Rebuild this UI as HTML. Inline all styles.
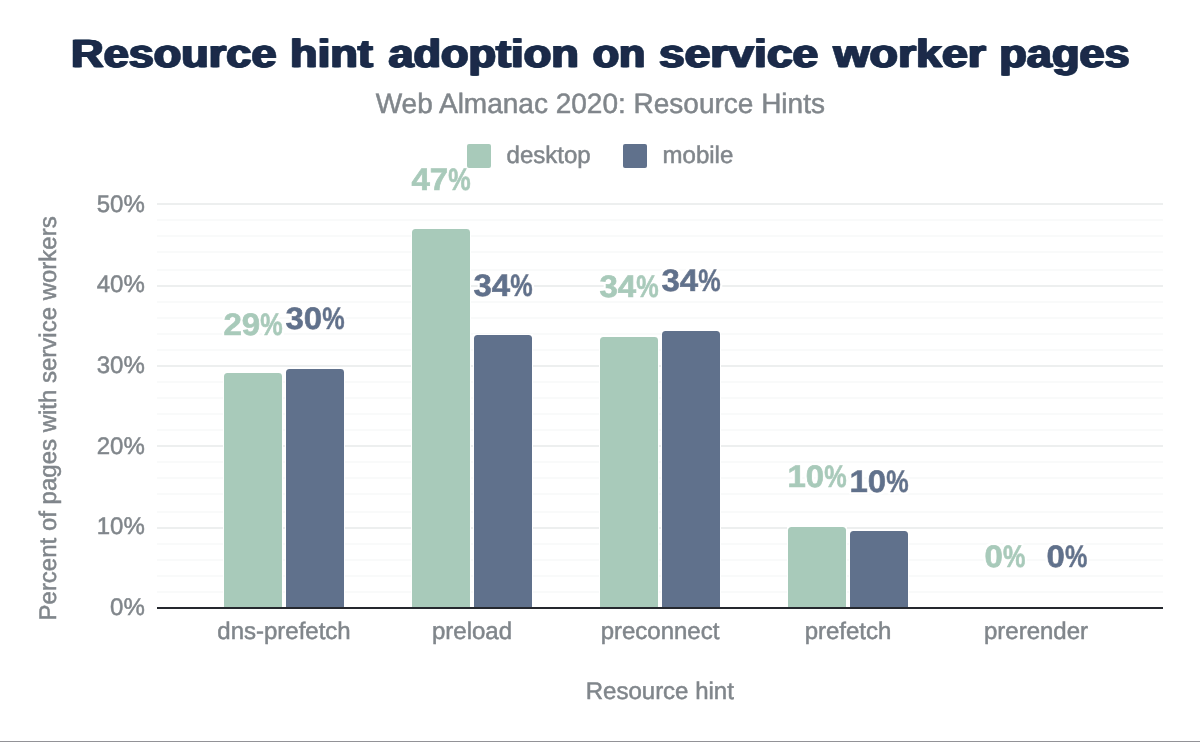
<!DOCTYPE html>
<html lang="en"><head><meta charset="utf-8"><title>Resource hint adoption on service worker pages</title>
<style>html,body{margin:0;padding:0;background:#fff;}body{width:1200px;height:742px;overflow:hidden;}svg{display:block;}text{font-family:"Liberation Sans",Arial,sans-serif;text-rendering:geometricPrecision;}.t{fill:#80868b;font-size:24px;stroke:#80868b;stroke-width:0.5px;}.dl{font-weight:bold;font-size:31px;}</style></head><body>
<svg width="1200" height="742" viewBox="0 0 1200 742">
<rect x="0" y="0" width="1200" height="742" fill="#fff"/>
<defs><filter id="fat" x="-2%" y="-30%" width="104%" height="160%"><feOffset dx="-1.2" dy="-0.2" in="SourceGraphic" result="a"/><feOffset dx="1.2" dy="-0.2" in="SourceGraphic" result="b"/><feOffset dx="0" dy="-0.2" in="SourceGraphic" result="c"/><feMerge><feMergeNode in="a"/><feMergeNode in="b"/><feMergeNode in="c"/></feMerge></filter><filter id="halo" x="-10%" y="-20%" width="120%" height="140%"><feMorphology in="SourceAlpha" operator="dilate" radius="2" result="d"/><feFlood flood-color="#fff"/><feComposite operator="in" in2="d" result="h"/><feMerge><feMergeNode in="h"/><feMergeNode in="SourceGraphic"/></feMerge></filter></defs>
<text y="67" font-size="39.3" font-weight="bold" fill="#1a2b49" stroke="#1a2b49" stroke-width="0.5" stroke-linejoin="round" filter="url(#fat)">
<tspan x="71.11" textLength="205.35" lengthAdjust="spacingAndGlyphs">Resource</tspan> <tspan x="290.11" textLength="82.67" lengthAdjust="spacingAndGlyphs">hint</tspan> <tspan x="388.44" textLength="190.29" lengthAdjust="spacingAndGlyphs">adoption</tspan> <tspan x="592.72" textLength="52.70" lengthAdjust="spacingAndGlyphs">on</tspan> <tspan x="658.94" textLength="159.41" lengthAdjust="spacingAndGlyphs">service</tspan> <tspan x="833.44" textLength="152.44" lengthAdjust="spacingAndGlyphs">worker</tspan> <tspan x="999.32" textLength="130.35" lengthAdjust="spacingAndGlyphs">pages</tspan>
</text>
<text x="600.3" y="113" text-anchor="middle" font-size="28" fill="#80868b" stroke="#80868b" stroke-width="0.5">Web Almanac 2020: Resource Hints</text>
<rect x="157" y="203" width="1006" height="2" fill="#edefef"/>
<rect x="157" y="219" width="1006" height="2" fill="#f9fafa"/>
<rect x="157" y="235" width="1006" height="2" fill="#f9fafa"/>
<rect x="157" y="251" width="1006" height="2" fill="#f9fafa"/>
<rect x="157" y="269" width="1006" height="2" fill="#f9fafa"/>
<rect x="157" y="285" width="1006" height="2" fill="#edefef"/>
<rect x="157" y="301" width="1006" height="2" fill="#f9fafa"/>
<rect x="157" y="317" width="1006" height="2" fill="#f9fafa"/>
<rect x="157" y="333" width="1006" height="2" fill="#f9fafa"/>
<rect x="157" y="349" width="1006" height="2" fill="#f9fafa"/>
<rect x="157" y="365" width="1006" height="2" fill="#edefef"/>
<rect x="157" y="381" width="1006" height="2" fill="#f9fafa"/>
<rect x="157" y="397" width="1006" height="2" fill="#f9fafa"/>
<rect x="157" y="413" width="1006" height="2" fill="#f9fafa"/>
<rect x="157" y="429" width="1006" height="2" fill="#f9fafa"/>
<rect x="157" y="445" width="1006" height="2" fill="#edefef"/>
<rect x="157" y="461" width="1006" height="2" fill="#f9fafa"/>
<rect x="157" y="477" width="1006" height="2" fill="#f9fafa"/>
<rect x="157" y="493" width="1006" height="2" fill="#f9fafa"/>
<rect x="157" y="511" width="1006" height="2" fill="#f9fafa"/>
<rect x="157" y="527" width="1006" height="2" fill="#edefef"/>
<rect x="157" y="543" width="1006" height="2" fill="#f9fafa"/>
<rect x="157" y="559" width="1006" height="2" fill="#f9fafa"/>
<rect x="157" y="575" width="1006" height="2" fill="#f9fafa"/>
<rect x="157" y="591" width="1006" height="2" fill="#f9fafa"/>
<text class="t" x="144.8" y="212" text-anchor="end">50%</text>
<text class="t" x="144.8" y="292" text-anchor="end">40%</text>
<text class="t" x="144.8" y="373" text-anchor="end">30%</text>
<text class="t" x="144.8" y="454" text-anchor="end">20%</text>
<text class="t" x="144.8" y="534" text-anchor="end">10%</text>
<text class="t" x="144.8" y="615" text-anchor="end">0%</text>
<rect x="223" y="372" width="60" height="236" fill="#fff"/>
<path d="M224 608 V376.5 A3.5 3.5 0 0 1 227.5 373 H278.5 A3.5 3.5 0 0 1 282 376.5 V608 Z" fill="#a8caba"/>
<rect x="285" y="368" width="60" height="240" fill="#fff"/>
<path d="M286 608 V372.5 A3.5 3.5 0 0 1 289.5 369 H340.5 A3.5 3.5 0 0 1 344 372.5 V608 Z" fill="#60718c"/>
<rect x="411" y="228" width="60" height="380" fill="#fff"/>
<path d="M412 608 V232.5 A3.5 3.5 0 0 1 415.5 229 H466.5 A3.5 3.5 0 0 1 470 232.5 V608 Z" fill="#a8caba"/>
<rect x="473" y="334" width="60" height="274" fill="#fff"/>
<path d="M474 608 V338.5 A3.5 3.5 0 0 1 477.5 335 H528.5 A3.5 3.5 0 0 1 532 338.5 V608 Z" fill="#60718c"/>
<rect x="599" y="336" width="60" height="272" fill="#fff"/>
<path d="M600 608 V340.5 A3.5 3.5 0 0 1 603.5 337 H654.5 A3.5 3.5 0 0 1 658 340.5 V608 Z" fill="#a8caba"/>
<rect x="661" y="330" width="60" height="278" fill="#fff"/>
<path d="M662 608 V334.5 A3.5 3.5 0 0 1 665.5 331 H716.5 A3.5 3.5 0 0 1 720 334.5 V608 Z" fill="#60718c"/>
<rect x="787" y="526" width="60" height="82" fill="#fff"/>
<path d="M788 608 V530.5 A3.5 3.5 0 0 1 791.5 527 H842.5 A3.5 3.5 0 0 1 846 530.5 V608 Z" fill="#a8caba"/>
<rect x="849" y="530" width="60" height="78" fill="#fff"/>
<path d="M850 608 V534.5 A3.5 3.5 0 0 1 853.5 531 H904.5 A3.5 3.5 0 0 1 908 534.5 V608 Z" fill="#60718c"/>
<rect x="157" y="607" width="1006" height="2" fill="#25282e"/>
<text class="dl" x="223.44" y="334.8" fill="#a8caba" stroke="#a8caba" stroke-width="0.7" filter="url(#halo)"><tspan textLength="36.72" lengthAdjust="spacingAndGlyphs">29</tspan><tspan textLength="22.40" lengthAdjust="spacingAndGlyphs">%</tspan></text>
<text class="dl" x="285.44" y="328.8" fill="#60718c" stroke="#60718c" stroke-width="0.7" filter="url(#halo)"><tspan textLength="36.72" lengthAdjust="spacingAndGlyphs">30</tspan><tspan textLength="22.40" lengthAdjust="spacingAndGlyphs">%</tspan></text>
<text class="dl" x="411.44" y="190.1" fill="#a8caba" stroke="#a8caba" stroke-width="0.7" filter="url(#halo)"><tspan textLength="36.72" lengthAdjust="spacingAndGlyphs">47</tspan><tspan textLength="22.40" lengthAdjust="spacingAndGlyphs">%</tspan></text>
<text class="dl" x="473.44" y="296.2" fill="#60718c" stroke="#60718c" stroke-width="0.7" filter="url(#halo)"><tspan textLength="36.72" lengthAdjust="spacingAndGlyphs">34</tspan><tspan textLength="22.40" lengthAdjust="spacingAndGlyphs">%</tspan></text>
<text class="dl" x="599.44" y="297.2" fill="#a8caba" stroke="#a8caba" stroke-width="0.7" filter="url(#halo)"><tspan textLength="36.72" lengthAdjust="spacingAndGlyphs">34</tspan><tspan textLength="22.40" lengthAdjust="spacingAndGlyphs">%</tspan></text>
<text class="dl" x="661.44" y="291.4" fill="#60718c" stroke="#60718c" stroke-width="0.7" filter="url(#halo)"><tspan textLength="36.72" lengthAdjust="spacingAndGlyphs">34</tspan><tspan textLength="22.40" lengthAdjust="spacingAndGlyphs">%</tspan></text>
<text class="dl" x="787.44" y="487.0" fill="#a8caba" stroke="#a8caba" stroke-width="0.7" filter="url(#halo)"><tspan textLength="36.72" lengthAdjust="spacingAndGlyphs">10</tspan><tspan textLength="22.40" lengthAdjust="spacingAndGlyphs">%</tspan></text>
<text class="dl" x="849.44" y="492.0" fill="#60718c" stroke="#60718c" stroke-width="0.7" filter="url(#halo)"><tspan textLength="36.72" lengthAdjust="spacingAndGlyphs">10</tspan><tspan textLength="22.40" lengthAdjust="spacingAndGlyphs">%</tspan></text>
<text class="dl" x="984.62" y="566.9" fill="#a8caba" stroke="#a8caba" stroke-width="0.7" filter="url(#halo)"><tspan textLength="18.36" lengthAdjust="spacingAndGlyphs">0</tspan><tspan textLength="22.40" lengthAdjust="spacingAndGlyphs">%</tspan></text>
<text class="dl" x="1046.62" y="566.9" fill="#60718c" stroke="#60718c" stroke-width="0.7" filter="url(#halo)"><tspan textLength="18.36" lengthAdjust="spacingAndGlyphs">0</tspan><tspan textLength="22.40" lengthAdjust="spacingAndGlyphs">%</tspan></text>
<rect x="467" y="144" width="24" height="24" rx="2" fill="#a8caba"/>
<text class="t" x="506.6" y="163">desktop</text>
<rect x="623" y="144" width="24" height="24" rx="2" fill="#60718c"/>
<text class="t" x="662.6" y="163">mobile</text>
<text class="t" x="284" y="639" text-anchor="middle">dns-prefetch</text>
<text class="t" x="472" y="639" text-anchor="middle">preload</text>
<text class="t" x="660" y="639" text-anchor="middle">preconnect</text>
<text class="t" x="848" y="639" text-anchor="middle">prefetch</text>
<text class="t" x="1036" y="639" text-anchor="middle">prerender</text>
<text class="t" x="659.8" y="699" text-anchor="middle">Resource hint</text>
<text class="t" transform="translate(55.8 418.4) rotate(-90)" text-anchor="middle">Percent of pages with service workers</text>
<rect x="0" y="741" width="1200" height="1" fill="#929297"/>
</svg></body></html>
